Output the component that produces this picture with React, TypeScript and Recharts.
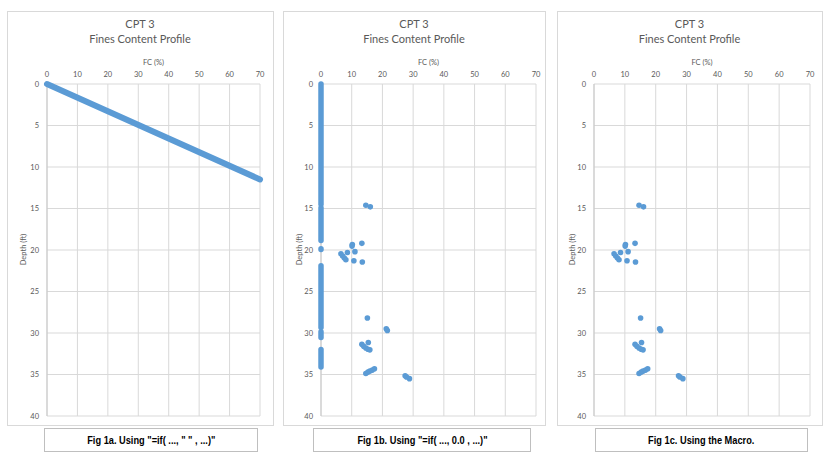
import React from 'react'
import { ScatterChart, Scatter, XAxis, YAxis, CartesianGrid } from 'recharts'

// FC (%) axis and depth (ft) axis
const fcTicks = [0, 10, 20, 30, 40, 50, 60, 70]
const depthTicks = [0, 5, 10, 15, 20, 25, 30, 35, 40]

// Fig 1a: text blanks make Excel plot against point index -> one steep dotted line
const blankLineFc = [0, 70]
const blankLineDepth = [0, 11.5]

// Fig 1b: depth runs where the blank was written as 0.0
const zeroRuns: [number, number][] = [
  [0, 14.5], [14.9, 18.85], [19.85, 19.95], [21.9, 29.35], [29.85, 30.55], [32.0, 34.1],
]

// measured fines content (same in 1b and 1c)
const fcValues = [
  14.6, 16.05, 13.3, 10.2, 10.1, 11.05, 8.6, 6.5, 7.05, 7.6, 8.1, 10.7, 13.45,
  15.1, 21.25, 21.6, 15.4, 13.3, 13.9, 14.6, 15.3, 15.9,
  14.6, 15.3, 15.9, 16.7, 17.4, 27.4, 27.85, 28.8,
]
const depthValues = [
  14.6, 14.8, 19.2, 19.33, 19.53, 20.2, 20.3, 20.45, 20.73, 20.97, 21.17, 21.3, 21.45,
  28.2, 29.5, 29.7, 31.15, 31.35, 31.6, 31.8, 31.95, 32.03,
  34.88, 34.71, 34.59, 34.47, 34.31, 35.15, 35.3, 35.5,
]

const captions = [
  'Fig 1a. Using "=if( ..., " " , ...)"',
  'Fig 1b. Using "=if( ..., 0.0 , ...)"',
  'Fig 1c. Using the Macro.',
]

const BLUE = '#5B9BD5'
const TXT = '#595959'
const FONT = 'Lato, "Liberation Sans", sans-serif'

const measured = fcValues.map((fc, i) => ({ fc, depth: depthValues[i] }))
const blankLine = blankLineFc.map((fc, i) => ({ fc, depth: blankLineDepth[i] }))

const TOP = 11
const BOTTOM = 425
const PLOT_TOP = 84
const PLOT_BOTTOM = 416

const panels = [
  { x0: 7, x1: 273, plotLeft: 47, plotRight: 260, depthX: 23, cap: [44, 258] },
  { x0: 283, x1: 545, plotLeft: 321, plotRight: 536, depthX: 299, cap: [313, 531] },
  { x0: 557, x1: 822, plotLeft: 594, plotRight: 810, depthX: 572, cap: [595, 808] },
]

const dot = (p: any) => <circle cx={p.cx} cy={p.cy} r={2.8} fill={BLUE} />
const none = () => <g />

function Panel({ idx }: { idx: number }) {
  const p = panels[idx]
  const w = p.x1 - p.x0
  const h = BOTTOM - TOP
  const plotMid = (p.plotLeft + p.plotRight) / 2
  const tick = { fontSize: 7.5, fill: TXT, fontFamily: FONT }
  return (
    <>
      <div style={{ position: 'absolute', left: p.x0, top: TOP, width: w - 1, height: h - 1, border: '1px solid #d9d9d9', background: '#fff' }} />
      <div style={{ position: 'absolute', left: p.x0, top: 16, width: w, textAlign: 'center', fontFamily: FONT, fontSize: 11, lineHeight: '15px', color: TXT }}>
        CPT 3<br />Fines Content Profile
      </div>
      <div style={{ position: 'absolute', left: plotMid - 30, top: 58, width: 60, textAlign: 'center', fontFamily: FONT, fontSize: 7.5, color: TXT }}>FC (%)</div>
      <div style={{ position: 'absolute', left: p.depthX - 30, top: 245, width: 60, textAlign: 'center', fontFamily: FONT, fontSize: 7.5, color: TXT, transform: 'rotate(-90deg)' }}>Depth (ft)</div>
      <div style={{ position: 'absolute', left: p.x0, top: TOP }}>
        <ScatterChart
          width={w}
          height={h}
          margin={{ top: PLOT_TOP - TOP - 20, right: p.x1 - p.plotRight, bottom: BOTTOM - PLOT_BOTTOM, left: 0 }}
        >
          <CartesianGrid stroke="#d9d9d9" strokeWidth={1} />
          <XAxis type="number" dataKey="fc" domain={[0, 70]} ticks={fcTicks} orientation="top" height={20}
            axisLine={false} tickLine={false} tickSize={4} tick={tick} tickMargin={3} />
          <YAxis type="number" dataKey="depth" domain={[0, 40]} ticks={depthTicks} reversed width={p.plotLeft - p.x0}
            axisLine={{ stroke: '#c8c8c8' }} tickLine={false} tickSize={4} tickMargin={4} tick={tick} />
          {idx === 0 && (
            <Scatter data={blankLine} shape={none} line={{ stroke: BLUE, strokeWidth: 6, strokeLinecap: 'round' }} isAnimationActive={false} />
          )}
          {idx === 1 && zeroRuns.map(([a, b], i) => (
            <Scatter key={i} data={[{ fc: 0, depth: a }, { fc: 0, depth: b }]} shape={none}
              line={{ stroke: BLUE, strokeWidth: 5.5, strokeLinecap: 'round' }} isAnimationActive={false} />
          ))}
          {idx > 0 && <Scatter data={measured} shape={dot} isAnimationActive={false} />}
        </ScatterChart>
      </div>
      <div style={{
        position: 'absolute', left: p.cap[0], top: 428, width: p.cap[1] - p.cap[0] - 2, height: 22,
        border: '1px solid #bfbfbf', background: '#fff', display: 'flex', alignItems: 'center', justifyContent: 'center',
        fontFamily: '"Liberation Sans Narrow", "Arial Narrow", "Liberation Sans", sans-serif', fontWeight: 'bold', fontSize: 11, color: '#000',
      }}>
        <span style={{ display: 'inline-block', transform: 'scaleX(0.84)', whiteSpace: 'nowrap' }}>{captions[idx]}</span>
      </div>
    </>
  )
}

export default function App() {
  return (
    <div style={{ position: 'absolute', left: 0, top: 0, width: 830, height: 456, background: '#fff', overflow: 'hidden' }}>
      <Panel idx={0} />
      <Panel idx={1} />
      <Panel idx={2} />
    </div>
  )
}
